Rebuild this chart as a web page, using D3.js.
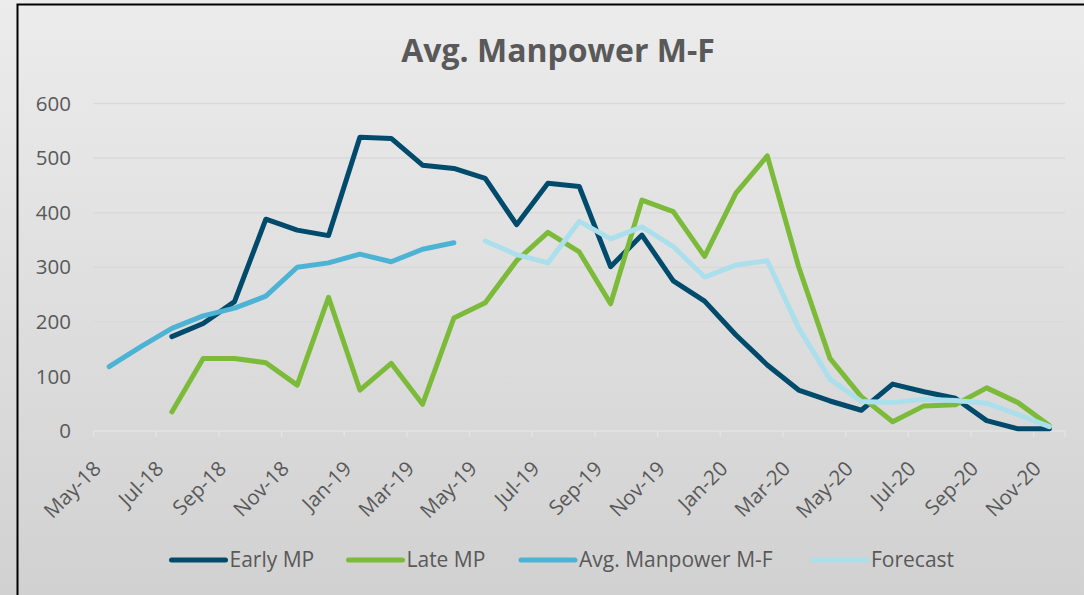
<!DOCTYPE html>
<html>
<head>
<meta charset="utf-8">
<script src="https://cdn.jsdelivr.net/npm/d3@7"></script>
<style>
  html, body { margin: 0; padding: 0; }
  body { width: 1084px; height: 595px; overflow: hidden; }
  svg text { font-family: "Open Sans", "DejaVu Sans", sans-serif; fill: #595959; }
</style>
</head>
<body>
<svg id="chart" width="1084" height="595"></svg>
<script>
"use strict";

// month categories, May-18 .. Nov-20
var months = ["May-18", "Jun-18", "Jul-18", "Aug-18", "Sep-18", "Oct-18", "Nov-18", "Dec-18",
  "Jan-19", "Feb-19", "Mar-19", "Apr-19", "May-19", "Jun-19", "Jul-19", "Aug-19", "Sep-19", "Oct-19", "Nov-19", "Dec-19",
  "Jan-20", "Feb-20", "Mar-20", "Apr-20", "May-20", "Jun-20", "Jul-20", "Aug-20", "Sep-20", "Oct-20", "Nov-20"];

var yTicks = [0, 100, 200, 300, 400, 500, 600];

// null = no value for that month
var earlyMP = [null, null, 173, 197, 237, 388, 368, 358,
  538, 536, 487, 481, 463, 378, 454, 448, 301, 359, 275, 238,
  176, 121, 75, 55, 38, 86, 72, 60, 19, 4, 4];
var lateMP = [null, null, 35, 133, 133, 125, 84, 245,
  75, 124, 49, 207, 235, 312, 364, 328, 233, 423, 402, 320,
  436, 504, 301, 133, 63, 17, 46, 48, 79, 52, 10];
var avgMP = [118, 154, 188, 211, 225, 247, 300, 308,
  324, 310, 333, 345, null, null, null, null, null, null, null, null,
  null, null, null, null, null, null, null, null, null, null, null];
var forecast = [null, null, null, null, null, null, null, null,
  null, null, null, null, 348, 323, 308, 384, 352, 374, 338, 282,
  304, 312, 189, 95, 54, 52, 58, 56, 51, 30, 8];

var seriesNames = ["Early MP", "Late MP", "Avg. Manpower M-F", "Forecast"];
var seriesColors = ["#004b6b", "#7cbb3a", "#4db3d4", "#abdfec"];
var seriesValues = [earlyMP, lateMP, avgMP, forecast];

var svg = d3.select("#chart");

// background
var defs = svg.append("defs");
var grad = defs.append("linearGradient").attr("id", "bg")
  .attr("x1", 0).attr("y1", 0).attr("x2", 0).attr("y2", 1);
grad.append("stop").attr("offset", "0%").attr("stop-color", "#ececec");
grad.append("stop").attr("offset", "100%").attr("stop-color", "#d1d1d1");
svg.append("rect").attr("width", 1084).attr("height", 595).attr("fill", "url(#bg)");

// frame (left and top edges visible)
svg.append("path")
  .attr("d", "M17.5,595 L17.5,4.5 L1084,4.5")
  .attr("fill", "none").attr("stroke", "#000").attr("stroke-width", 2);

var plotLeft = 93.5, plotRight = 1065, plotTop = 103.5, plotBottom = 431;

var xBand = d3.scaleBand().domain(months).range([plotLeft, plotRight]).padding(0);
var x = function(m) { return xBand(m) + xBand.bandwidth() / 2; };
var y = d3.scaleLinear().domain([0, 600]).range([plotBottom, plotTop]);

// title
svg.append("text")
  .attr("x", 558).attr("y", 62)
  .attr("text-anchor", "middle")
  .style("font-size", "32px").style("font-weight", "bold")
  .text("Avg. Manpower M-F");

// gridlines
svg.append("g").selectAll("line")
  .data(yTicks.filter(function(d) { return d > 0; }))
  .join("line")
  .attr("x1", plotLeft).attr("x2", plotRight)
  .attr("y1", function(d) { return y(d); }).attr("y2", function(d) { return y(d); })
  .attr("stroke", "#d9d9d9").attr("stroke-width", 1.5);

// y labels
svg.append("g").selectAll("text")
  .data(yTicks)
  .join("text")
  .attr("x", 71).attr("y", function(d) { return y(d); })
  .attr("dy", "0.35em")
  .attr("text-anchor", "end")
  .style("font-size", "20.5px")
  .text(function(d) { return d; });

// category axis line and ticks
svg.append("line")
  .attr("x1", plotLeft).attr("x2", plotRight).attr("y1", plotBottom).attr("y2", plotBottom)
  .attr("stroke", "#e3e3e3").attr("stroke-width", 1.5);
var tickPos = months.filter(function(m, i) { return i % 2 === 0; })
  .map(function(m) { return xBand(m); }).concat([plotRight]);
svg.append("g").selectAll("line")
  .data(tickPos)
  .join("line")
  .attr("x1", function(d) { return d; }).attr("x2", function(d) { return d; })
  .attr("y1", plotBottom).attr("y2", plotBottom + 6)
  .attr("stroke", "#e3e3e3").attr("stroke-width", 1.5);

// x labels, every other month
svg.append("g").selectAll("text")
  .data(months.filter(function(m, i) { return i % 2 === 0; }))
  .join("text")
  .attr("transform", function(m) { return "translate(" + (x(m) - 7) + ",470) rotate(-45)"; })
  .attr("text-anchor", "end")
  .style("font-size", "20.5px")
  .text(function(m) { return m; });

// lines
var line = d3.line()
  .defined(function(d) { return d.v !== null; })
  .x(function(d) { return x(d.m); })
  .y(function(d) { return y(d.v); });

seriesValues.forEach(function(vals, si) {
  var pts = months.map(function(m, i) { return { m: m, v: vals[i] }; });
  svg.append("path")
    .datum(pts)
    .attr("d", line)
    .attr("fill", "none")
    .attr("stroke", seriesColors[si])
    .attr("stroke-width", 5)
    .attr("stroke-linecap", "round")
    .attr("stroke-linejoin", "round");
});

// legend
var legendX = [171.5, 348.5, 521, 813];
var lg = svg.append("g").selectAll("g")
  .data(seriesNames)
  .join("g")
  .attr("transform", function(d, i) { return "translate(" + legendX[i] + ",560)"; });
lg.append("line")
  .attr("x1", 0).attr("x2", 54).attr("y1", 0).attr("y2", 0)
  .attr("stroke", function(d, i) { return seriesColors[i]; })
  .attr("stroke-width", 5).attr("stroke-linecap", "round");
lg.append("text")
  .attr("x", 58).attr("y", 0).attr("dy", "0.35em")
  .style("font-size", "21px")
  .text(function(d) { return d; });
</script>
</body>
</html>
